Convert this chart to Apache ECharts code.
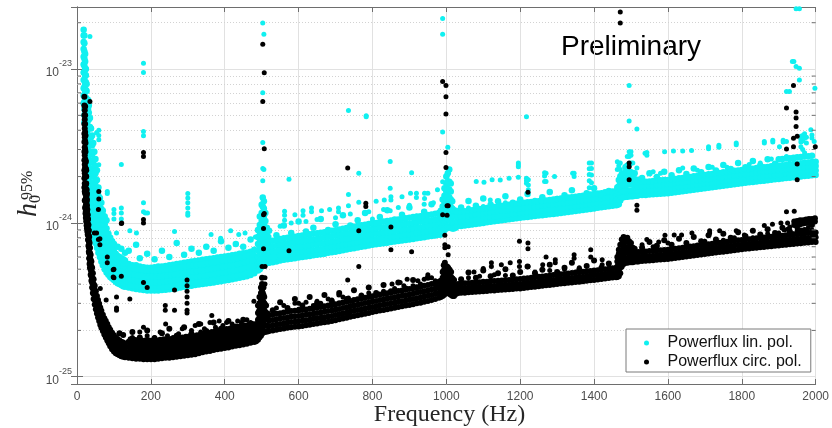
<!DOCTYPE html>
<html><head><meta charset="utf-8">
<script src="https://cdn.jsdelivr.net/npm/echarts@6/dist/echarts.min.js"></script>
<style>html,body{margin:0;padding:0;background:#fff}#c{width:832px;height:428px}</style>
</head><body><div id="c"></div>
<script>
// All strain values are in units of 1e-25 ; each row = [frequency (Hz), value, value, ...]
const UNIT_EXP = -25;
const xTicks = [0,200,400,600,800,1000,1200,1400,1600,1800,2000];
const yMinor = [2,3,4,5,6,7,8,9,20,30,40,50,60,70,80,90,200];
const seriesNames = ['Powerflux lin. pol.','Powerflux circ. pol.'];

const linCurve = [
[18,60,67,75,85,95,107,120,135,150,165,180],[20,45,50,55,61,68,76,85,95,105,117,130,147,165],
[22,35,38,42,47,52,58,64,72,80,90,100,112,125],[24,28,31,34,38,42,47,52,58,65,73,82,91,100],
[26,22,24.5,27,30,33,37,41,46,51,57,64,72,80],[28,17,19,21,23.5,26,29,32,36,40,45,50,56,62],
[30,14,15.5,17,19,21,23.5,26,29.5,33,37,42,48,55,63],[32,12.5,13.7,15,16.7,18.5,20.5,23,26,29,33,37,42,47,52,58],
[35,10.5,11.5,12.5,13.7,15,16.5,18,20,22,25,28,32,36,42,48],[38,9.8,10.6,11.5,12.5,13.5,15,16.5,18,20,22.5,25,28.5,32,36,41],
[41,9.1,9.8,10.6,11.5,12.5,13.7,15,16.5,18,20,22,25,28,32,37],[44,8.5,9.1,9.8,10.6,11.5,12.5,13.5,14.7,16,18,20,22.5,25,29,33],
[47,7.9,8.5,9.1,9.8,10.6,11.5,12.4,13.4,14.5,16,18,20,23,26,29],[50,7.4,7.9,8.5,9.1,9.8,10.6,11.4,12.4,13.5,15,16.5,18.5,21,23.5,26],
[54,6.9,7.4,7.9,8.5,9.1,9.8,10.5,11.3,12.2,13.5,15,17,19,22],[58,6.4,6.85,7.3,7.85,8.4,9.0,9.7,10.5,11.3,12.3,13.5,15,17],
[62,6.0,6.4,6.8,7.3,7.8,8.4,9,9.7,10.4,11.3,12.3,13.3,14.5],[66,5.6,6.0,6.4,6.85,7.3,7.85,8.4,9.0,9.7,10.5,11.3,12.3,13.5],
[70,5.3,5.65,6.0,6.45,6.9,7.4,7.9,8.5,9.1,9.8,10.5,11.2,12],[75,5.0,5.35,5.7,6.1,6.5,6.95,7.4,7.95,8.5,9.1,9.8,10.4,11],
[80,4.75,5.05,5.4,5.75,6.1,6.55,7.0,7.5,8.0,8.6,9.2,10.4],[85,4.6,4.9,5.2,5.5,5.8,6.2,6.6,7.0,7.5,8.0,8.5],
[90,4.45,4.72,5.0,5.3,5.6,5.95,6.3,6.7,7.1,7.5,8.0],[95,4.35,4.6,4.85,5.1,5.4,5.75,6.1,6.45,6.8,7.2,7.6],
[100,4.25,4.47,4.7,4.95,5.2,5.5,5.8,6.15,6.5,6.9,7.3],[105,4.15,4.37,4.6,4.85,5.1,5.35,5.6,5.95,6.3],
[110,4.05,4.27,4.5,4.75,5.0,5.25,5.5,5.8,6.1,7.0],[115,4.0,4.2,4.4,4.65,4.9,5.15,5.4,5.7,6.0],
[120,3.95,4.15,4.35,4.57,4.8,5.05,5.3,5.6,5.9,6.8],[125,3.88,4.08,4.3,4.52,4.75,5.0,5.25,5.5,5.8],
[130,3.84,4.04,4.25,4.47,4.7,4.95,5.2,5.45,5.7,6.4]
];
const linBand1 = [
[140,3.8,4.1,4.5,4.9,5.4,6.6],[150,3.76,4.1,4.45,4.85,5.3],[160,3.72,4.05,4.4,4.8,5.3,7.2],[170,3.69,4.0,4.35,4.75,5.2,5.9],
[180,3.66,3.98,4.3,4.7,5.15],[190,3.64,3.95,4.3,4.7,5.1,6.3],[200,3.63,3.94,4.28,4.68,5.1],[210,3.63,3.95,4.3,4.7,5.15,5.8],
[220,3.64,3.96,4.3,4.72,5.2],[230,3.66,3.98,4.33,4.74,5.2,6.6],[240,3.68,4.0,4.36,4.78,5.25],[250,3.7,4.03,4.4,4.82,5.3,6.0],
[260,3.73,4.06,4.43,4.85,5.35],[270,3.76,4.1,4.47,4.9,5.4,7.4],[280,3.8,4.14,4.5,4.95,5.45],[290,3.84,4.18,4.55,5.0,5.5,6.2],
[300,3.88,4.22,4.6,5.05,5.55],[310,3.91,4.26,4.65,5.1,5.6,6.8],[320,3.94,4.3,4.68,5.13,5.65],[330,3.97,4.33,4.72,5.17,5.7,6.4],
[340,4.0,4.36,4.76,5.2,5.75],[350,4.03,4.4,4.8,5.25,5.8,7.0],[360,4.06,4.43,4.84,5.3,5.85],[370,4.1,4.47,4.88,5.35,5.9,6.6],
[380,4.14,4.5,4.92,5.4,5.95],[390,4.18,4.55,4.97,5.45,6.0,7.6],[400,4.22,4.6,5.0,5.5,6.05],[410,4.25,4.63,5.05,5.55,6.1,6.9],
[420,4.3,4.68,5.1,5.6,6.15],[430,4.35,4.74,5.17,5.65,6.2,7.3],[440,4.4,4.8,5.23,5.72,6.3],[450,4.45,4.85,5.3,5.8,6.35,7.0],
[460,4.5,4.9,5.35,5.85,6.4],[470,4.58,5.0,5.45,5.95,6.5,7.8],[480,4.7,5.1,5.6,6.1,6.7],
[145,3.93,4.27,4.65,5.1],[155,3.89,4.23,4.6,5.05],[165,3.85,4.18,4.55,5.0],[175,3.82,4.15,4.51,4.95],[185,3.8,4.12,4.49,4.93],
[195,3.78,4.1,4.46,4.9],[205,3.78,4.1,4.46,4.9],[215,3.78,4.1,4.47,4.9],[225,3.8,4.12,4.49,4.93],[235,3.82,4.15,4.51,4.95],
[245,3.84,4.17,4.54,4.98],[255,3.86,4.19,4.56,5.0],[265,3.89,4.23,4.6,5.05],[275,3.93,4.27,4.65,5.1],[285,3.97,4.32,4.7,5.16],
[295,4.01,4.36,4.75,5.21],[305,4.06,4.41,4.8,5.27],[315,4.08,4.43,4.82,5.29],[325,4.11,4.46,4.86,5.33],[335,4.14,4.5,4.9,5.37],
[345,4.17,4.53,4.93,5.41],[355,4.21,4.58,4.98,5.47],[365,4.24,4.61,5.02,5.51],[375,4.28,4.66,5.07,5.56],[385,4.33,4.7,5.12,5.62],
[395,4.37,4.75,5.17,5.67],[405,4.4,4.78,5.2,5.71],[415,4.45,4.84,5.26,5.78],[425,4.49,4.88,5.31,5.83],[435,4.54,4.94,5.38,5.9],
[445,4.6,5.0,5.44,5.97],[455,4.65,5.05,5.5,6.03],[465,4.72,5.13,5.58,6.13],[475,4.83,5.24,5.71,6.26]
];
const linSpike500 = [
[490,4.9,5.4,6.0,6.6,7.3,8.1,9.0],[495,5.0,5.6,6.3,7.0,7.8,8.7,9.7,11.0],[500,5.2,5.8,6.5,7.3,8.2,9.2,10.3,11.6,13.1],
[503,5.5,6.2,7.0,7.9,8.9,10.0,11.3,12.8,14.6],[506,5.3,6.0,6.8,7.7,8.7,9.8,11.0,12.4,13.8],
[510,5.4,5.9,6.6,7.4,8.2,9.2,10.3,11.6],[514,5.5,6.0,6.7,7.5,8.3,9.3],[518,5.5,6.0,6.6,7.3,8.1]
];
const linBand2 = [
[520,5.5,5.94,6.44,6.99,7.59,8.9],[530,5.55,6.0,6.5,7.05,7.66],[540,5.6,6.05,6.55,7.1,7.75,8.3],[550,5.7,6.15,6.67,7.24,7.87],
[560,5.75,6.21,6.73,7.3,7.94,9.6],[570,5.8,6.26,6.79,7.37,8.0],[580,5.85,6.32,6.84,7.43,8.07,8.6],[590,5.9,6.37,6.9,7.49,8.14],
[600,5.95,6.43,6.96,7.56,8.21,10.2],[610,6.0,6.48,7.02,7.62,8.28],[620,6.05,6.53,7.08,7.68,8.35,8.8],[630,6.1,6.59,7.14,7.75,8.42],
[640,6.15,6.64,7.2,7.81,8.49,9.3],[650,6.2,6.7,7.25,7.87,8.56],[660,6.25,6.75,7.31,7.94,8.63,10.6],[670,6.3,6.8,7.37,8.0,8.69],
[680,6.4,6.91,7.49,8.13,8.83,9.0],[690,6.45,6.97,7.55,8.19,8.9],[700,6.5,7.02,7.61,8.26,8.97,9.8],[710,6.57,7.1,7.69,8.34,9.07],
[720,6.64,7.17,7.77,8.43,9.16,11.2],[730,6.71,7.25,7.85,8.52,9.26],[740,6.78,7.32,7.93,8.61,9.36,9.6],[750,6.85,7.4,8.01,8.7,9.45],
[760,6.92,7.47,8.1,8.79,9.55,10.4],[770,6.99,7.55,8.18,8.88,9.65],[780,7.06,7.62,8.26,8.97,9.74,11.6],[790,7.13,7.7,8.34,9.06,9.84],
[800,7.2,7.78,8.42,9.14,9.94,10.0],[810,7.26,7.84,8.49,9.22,10.0],[820,7.32,7.91,8.56,9.3,10.1,10.9],[830,7.38,7.97,8.63,9.37,10.2],
[840,7.44,8.04,8.7,9.45,10.3,12.1],[850,7.5,8.1,8.78,9.53,10.35],[860,7.56,8.16,8.85,9.6,10.4,10.5],[870,7.62,8.23,8.92,9.68,10.5],
[880,7.68,8.29,8.99,9.75,10.6,11.3],[890,7.74,8.36,9.06,9.83,10.7],[900,7.8,8.42,9.13,9.91,10.8,12.6],[910,7.87,8.5,9.21,10.0,10.9],
[920,7.94,8.58,9.29,10.1,11.0,10.9],[930,8.01,8.65,9.37,10.2,11.05],[940,8.08,8.73,9.45,10.3,11.15,11.8],[950,8.15,8.8,9.54,10.35,11.25],
[960,8.22,8.88,9.62,10.4,11.35,13.2],[970,8.29,8.95,9.7,10.5,11.45],[980,8.36,9.03,9.78,10.6,11.5,11.6]
];
const linSpike1000 = [
[985,8.4,9.2,10,11,12],[990,8.6,9.5,10.5,11.6,12.8,14.2],[995,9.0,10,11,12.2,13.5,15,16.8],
[1000,9.2,10.3,11.5,12.8,14.3,16,18,20],[1004,9.5,10.6,11.8,13.2,14.8,16.6,18.6,21],[1008,9.4,10.5,11.7,13.1,14.7,16.5,18.5,22.2],
[1012,9.3,10.3,11.4,12.7,14.2,16,18],[1016,9.2,10.1,11.2,12.4,13.8],[1020,9.2,10,11,12.1],[1025,9.3,10.1,11,12]
];
const linBand3 = [
[1030,9.5,10.2,10.9,11.8],[1040,9.55,10.2,11.0,11.8,12.6],[1050,9.6,10.3,11.0,11.9],[1060,9.68,10.4,11.1,12.0,13.9],
[1070,9.76,10.4,11.2,12.1],[1080,9.84,10.5,11.3,12.2,12.9],[1090,9.92,10.6,11.4,12.3],[1100,10.0,10.7,11.5,12.4,14.4],
[1110,10.08,10.8,11.6,12.5],[1120,10.16,10.9,11.7,12.6,13.1],[1130,10.24,11.0,11.8,12.7],[1140,10.32,11.0,11.9,12.8,13.8],
[1150,10.4,11.1,12.0,12.9],[1160,10.48,11.2,12.05,13.0,14.9],[1170,10.56,11.3,12.1,13.1],[1180,10.64,11.4,12.2,13.2,13.5],
[1190,10.72,11.5,12.3,13.3],[1200,10.8,11.6,12.4,13.4,14.2],[1210,10.87,11.6,12.5,13.5],[1220,10.94,11.7,12.6,13.6,15.4],
[1230,11.01,11.8,12.7,13.65],[1240,11.08,11.9,12.7,13.7,13.9],[1250,11.15,11.9,12.8,13.8],[1260,11.22,12.0,12.9,13.9,14.7],
[1270,11.29,12.1,13.0,14.0],[1280,11.36,12.2,13.1,14.1,15.9],[1290,11.43,12.2,13.1,14.2],[1300,11.5,12.3,13.2,14.3,14.3],
[1310,11.59,12.4,13.3,14.4],[1320,11.68,12.5,13.4,14.5,15.1],[1330,11.77,12.6,13.5,14.6],[1340,11.86,12.7,13.6,14.7,16.3],
[1350,11.95,12.8,13.7,14.8],[1360,12.04,12.9,13.8,14.9,14.8],[1370,12.13,13.0,13.9,15.0],[1380,12.22,13.1,14.05,15.15,15.6],
[1390,12.32,13.2,14.2,15.3],[1400,12.42,13.3,14.3,15.4,16.8],[1410,12.52,13.4,14.4,15.5],[1420,12.62,13.5,14.5,15.6,15.2],
[1430,12.72,13.6,14.6,15.8],[1440,12.82,13.7,14.7,15.9,16.1],[1450,12.92,13.8,14.9,16.0],[1460,13.02,13.9,15.0,16.1]
];
const linStep1470 = [
[1463,13.1,14.2,15.5,17],[1467,13.2,14.4,15.8,17.3,19],[1471,14.0,15.2,16.6,18.2,20],
[1475,14.6,15.9,17.3,18.9,20.7],[1480,14.7,16.0,17.5,19.1,21],[1485,14.8,16.1,17.6,19.2,21.0,23],
[1490,14.8,16.1,17.7,19.3,21.2,23.5],[1495,14.9,16.2,17.8,19.5,21.5,24],[1500,14.9,16.2,17.8,19.4,21.3],
[1505,14.9,16.2,17.7,19.3,21.0],[1510,15.0,16.3,17.7,19.2,21],[1516,15.0,16.2,17.6,19.1]
];
const linBand4 = [
[1520,15.1,16.2,17.2,18.4],[1530,15.15,16.2,17.3,18.5,19.6],[1540,15.2,16.3,17.3,18.5],[1550,15.27,16.3,17.4,18.6,21.0],
[1560,15.34,16.4,17.5,18.7],[1570,15.41,16.5,17.6,18.8,19.9],[1580,15.48,16.6,17.6,18.9],[1590,15.55,16.6,17.7,19.0,21.5],
[1600,15.6,16.7,17.8,19.0],[1610,15.72,16.8,17.9,19.2,20.4],[1620,15.84,16.9,18.1,19.3],[1630,15.96,17.1,18.2,19.5,22.0],
[1640,16.08,17.2,18.3,19.6],[1650,16.2,17.3,18.5,19.8,20.8],[1660,16.32,17.5,18.6,19.9],[1670,16.44,17.6,18.7,20.1,22.6],
[1680,16.56,17.7,18.9,20.2],[1690,16.68,17.8,19.0,20.3,21.3],[1700,16.8,18.0,19.2,20.5],[1710,16.93,18.1,19.3,20.7,23.1],
[1720,17.06,18.3,19.4,20.8],[1730,17.19,18.4,19.6,21.0,21.9],[1740,17.32,18.5,19.7,21.1],[1750,17.45,18.7,19.9,21.3,23.8],
[1760,17.58,18.8,20.0,21.4],[1770,17.71,18.9,20.2,21.6,22.4],[1780,17.84,19.1,20.3,21.8],[1790,17.97,19.2,20.5,21.9,24.5],
[1800,18.1,19.4,20.6,22.1],[1810,18.22,19.5,20.8,22.2,23.0],[1820,18.34,19.6,20.9,22.4],[1830,18.46,19.8,21.0,22.5,25.2],
[1840,18.58,19.9,21.2,22.7],[1850,18.7,20.0,21.3,22.8,23.6],[1860,18.82,20.1,21.5,23.0],[1870,18.94,20.3,21.6,23.1,25.9],
[1880,19.06,20.4,21.7,23.3],[1890,19.18,20.5,21.9,23.4,24.2],[1900,19.3,20.7,22.0,23.5,25.9],[1910,19.42,20.8,22.1,23.7,26.0],
[1920,19.54,20.9,22.3,23.8,26.2],[1930,19.66,21.0,22.4,24.0,26.3],[1940,19.78,21.2,22.5,24.1,26.5],[1950,19.9,21.3,22.7,24.3,26.7],
[1960,20.02,21.4,22.8,24.4,26.8],[1970,20.14,21.5,23.0,24.6,27.0],[1980,20.26,21.7,23.1,24.7,27.1],[1990,20.38,21.8,23.2,24.9,27.3],
[2000,20.5,21.9,23.4,25.0]
];
const linScatter = [
[53,38.5],[59,40,37,34.7,23.9,16],[35,163],[82,16,15.5],[100,12.2,11.5,10.6],[107,8.6],[120,24,12.5,11.6,10.6],[143,8.9],
[161,8.6],[180,109,95,39.3,36.8,13.5,11.8],[185,11.6],[191,11.6],[264,8.8],[300,15.5,14.5,13.5,12.5,11.6,11.2],[363,8.4],
[389,7.95],[416,8.9],[438,8.4],[455,8.6],[483,8.1],
[503,18.8,22.6,33.3,70,199],[506,22.2,168],
[562,11.9,11.2,10.4],[574,19.2],[590,11.3],[612,12,11.2],[635,12.5,11.8],[662,12],[684,12.2],[708,12.5,11.8],
[735,53.8,15.3,12.9],[763,21,13.6],[783,49.7,49],[800,10.6],[810,13.8],[832,14.1],[848,25.1,16.8,12],[850,14.8,14.1],
[880,14.8],[903,15.6],[906,21.2],[919,15.6,14.6],[941,15.6,14.4],[950,15.6],[976,16.4],[550,9.5],[580,10],[620,10.2],
[650,10.5],[700,10.8],[740,11.4],[790,11.8],[830,12.2],[870,12.6],[900,13],[940,13.2],[965,13.5],
[990,18.5,39,168,213],[1004,31],
[1081,18.6],[1102,18.4],[1124,19.1],[1146,19.0],[1170,19.5],[1195,24.5,23.8,23.2,19.8],[1217,49,19.5,18.8,18.1],
[1222,19.1,17.6,16.4],[1266,21.2,20.2,18.6],[1270,21,18.6],[1293,20],[1342,21],[1346,21,20],[1387,24.5,22.5,20.6,18.8,16.9],
[1393,24.5,22.6,20.5,18.2],[1418,15.2],[1119,14.1],[1160,13.5],[1257,14.3,13.8],[1100,12.8],[1060,12.5],
[1463,22.2,25],[1467,23.5],[1471,22.2,24.5],[1490,27],[1495,27,29,46,78],[1500,24.5,27.5,29],[1505,24.5],[1516,22.7,40.7],
[1538,28.4],[1543,28.7,27.5],[1591,29],[1615,29.3],[1640,29.3,22.7],[1664,29.5],[1710,31.3,30.3],[1738,32,31],
[1785,33,32.2],[1807,22.2],[1861,33.8,33],[1884,34.5,33.5],[1902,31.3],[1912,34.5,33.5],[1921,71.5,33.8,27],[1929,71.5,25.7],
[1937,112],[1941,112,26],[1947,246,104],[1956,246,101,85],[1960,36.5,35,33.5,31.3],[1965,37,34,30],[1970,38,35.5,28.6],
[1975,36,33],[1987,40.3],[1990,37.3,35.6],[1996,33.8],[1998,75],[1880,26],[1850,24.5],[1820,24],[1760,23],[1720,23],
[1680,22],[1580,21],[1560,21.5]
];

const circCurve = [
[20,17,19.5,22,25.5,29,33.5,38,44,50,58,66],[21,14,16,18,21,24,27.5,31,36,41,47,54],[22,12.5,14,15.5,17.5,20,23,26,30,34,39,44,50,57],
[23,11.5,12.7,14,15.7,17.5,20,22.5,25.5,29,33,37],[24,10.8,11.9,13,14.5,16,18,20,22.5,25],[25,10.2,11.2,12.2,13.5,14.8,16.3,18,20,22],
[26,9.6,10.5,11.5,12.6,13.8,15.1,16.5],[27,9.2,10,10.9,11.9,13,14.2,15.5],[28,8.8,9.5,10.3,11.2,12.2],[29,8.4,9.0,9.7,10.5,11.3],
[30,7.8,8.4,9.1,9.8,10.6],[31,7.1,7.7,8.3,9.0,9.7],[32,6.5,7.0,7.6,8.2,8.9],[33,5.9,6.4,6.9,7.5,8.1],[34,5.4,5.85,6.3,6.85,7.4],
[35,5.1,5.5,5.9,6.4,6.9],[37,4.6,4.95,5.3,5.75,6.2],[39,4.2,4.5,4.8,5.2,5.6],[41,3.8,4.1,4.4,4.75,5.1],[43,3.5,3.75,4.05,4.35,4.7],
[45,3.2,3.45,3.7,4.0,4.3],[48,2.95,3.17,3.4,3.65,3.9],[51,2.75,2.95,3.15,3.37,3.6],[54,2.58,2.76,2.95,3.15,3.35],
[57,2.43,2.6,2.78,2.96,3.15],[60,2.3,2.46,2.62,2.8,2.98],[63,2.18,2.33,2.48,2.65,2.82],[66,2.08,2.22,2.36,2.52,2.68],
[70,1.98,2.1,2.24,2.38,2.53],[74,1.88,2.0,2.13,2.26,2.4],[78,1.8,1.91,2.03,2.16,2.3],[82,1.72,1.83,1.95,2.07,2.2],
[86,1.65,1.76,1.87,1.98,2.1],[90,1.58,1.68,1.79,1.9,2.02],[95,1.51,1.61,1.71,1.82,1.93],[100,1.46,1.55,1.65,1.75,1.86],
[105,1.42,1.51,1.6,1.7,1.8],[110,1.4,1.48,1.57,1.66,1.76],[115,1.38,1.46,1.54,1.63,1.72,1.92],[120,1.36,1.44,1.52,1.6,1.69],
[125,1.35,1.42,1.5,1.58,1.67,1.87],[130,1.34,1.41,1.48,1.56,1.64]
];
const circBand1 = [
[140,1.33,1.44,1.56,1.69],[150,1.32,1.43,1.54,1.68,1.95],[160,1.31,1.41,1.53,1.66],[170,1.31,1.41,1.53,1.66,1.8],
[180,1.3,1.4,1.52,1.65],[190,1.3,1.4,1.52,1.65,2.0],[200,1.3,1.4,1.52,1.65],[210,1.3,1.4,1.52,1.65,1.78],
[220,1.31,1.41,1.53,1.66],[230,1.32,1.43,1.54,1.68,1.92],[240,1.33,1.44,1.56,1.69],[250,1.33,1.44,1.56,1.69,2.05],
[260,1.34,1.45,1.57,1.7],[270,1.35,1.46,1.58,1.71,1.85],[280,1.36,1.47,1.59,1.73],[290,1.37,1.48,1.6,1.74,2.1],
[300,1.38,1.49,1.61,1.75],[310,1.39,1.5,1.63,1.77,1.9],[320,1.4,1.51,1.64,1.78],[330,1.42,1.53,1.66,1.8,2.2],
[340,1.44,1.56,1.68,1.83],[350,1.46,1.58,1.71,1.85,1.98],[360,1.47,1.59,1.72,1.87],[370,1.49,1.61,1.74,1.89,2.25],
[380,1.51,1.63,1.77,1.92],[390,1.52,1.64,1.78,1.93,2.05],[400,1.54,1.66,1.8,1.96],[410,1.55,1.67,1.81,1.97,2.3],
[420,1.57,1.7,1.84,1.99],[430,1.59,1.72,1.86,2.02,2.12],[440,1.6,1.73,1.87,2.03],[450,1.62,1.75,1.9,2.06,2.35],
[460,1.64,1.77,1.92,2.08],[470,1.66,1.79,1.94,2.11,2.2],[480,1.68,1.81,1.97,2.13],
[145,1.38,1.48,1.62,1.75],[155,1.37,1.47,1.6,1.74],[165,1.36,1.47,1.6,1.73],[175,1.36,1.46,1.59,1.72],[185,1.35,1.46,1.59,1.72],
[195,1.35,1.46,1.59,1.72],[205,1.35,1.46,1.59,1.72],[215,1.36,1.46,1.59,1.72],[225,1.37,1.47,1.6,1.74],[235,1.38,1.48,1.62,1.75],
[245,1.38,1.49,1.62,1.76],[255,1.39,1.5,1.63,1.76],[265,1.4,1.51,1.64,1.78],[275,1.41,1.52,1.65,1.79],[285,1.42,1.53,1.67,1.8],
[295,1.43,1.54,1.68,1.82],[305,1.44,1.55,1.69,1.83],[315,1.45,1.56,1.7,1.84],[325,1.47,1.58,1.72,1.86],[335,1.49,1.6,1.74,1.89],
[345,1.51,1.62,1.77,1.91],[355,1.52,1.64,1.79,1.93],[365,1.54,1.66,1.81,1.95],[375,1.56,1.68,1.83,1.98],[385,1.58,1.7,1.85,2.0],
[395,1.59,1.71,1.87,2.02],[405,1.61,1.73,1.88,2.04],[415,1.62,1.75,1.9,2.06],[425,1.64,1.77,1.93,2.09],[435,1.66,1.79,1.95,2.11],
[445,1.67,1.8,1.96,2.13],[455,1.7,1.83,1.99,2.15],[465,1.72,1.85,2.01,2.18],[475,1.74,1.87,2.04,2.2]
];
const circSpike500 = [
[485,1.7,1.85,2.0,2.2],[490,1.74,1.9,2.1,2.35,2.6,2.9],[494,1.8,2.0,2.2,2.45,2.7,3.0,3.3],
[498,1.85,2.05,2.3,2.55,2.85,3.15,3.5,3.8],[501,1.9,2.1,2.35,2.6,2.9,3.2,3.6,4.0,4.4],
[503,2.0,2.25,2.5,2.8,3.1,3.5],[505,1.95,2.2,2.45,2.75,3.05,3.4,3.8],
[507,1.95,2.15,2.4,2.7,3.0,3.3],[509,1.96,2.15,2.4,2.65,2.95],
[512,1.97,2.15,2.38,2.6,2.9],[516,1.97,2.14,2.35,2.58]
];
const circBand2 = [
[520,1.98,2.14,2.32,2.51],[530,2.0,2.16,2.34,2.54,2.7],[540,2.02,2.18,2.36,2.57],[550,2.04,2.2,2.39,2.59,3.05],
[560,2.06,2.22,2.41,2.62],[570,2.08,2.25,2.43,2.64,2.8],[580,2.1,2.27,2.46,2.67],[590,2.11,2.28,2.47,2.68,3.2],
[600,2.12,2.29,2.48,2.69],[610,2.14,2.31,2.5,2.72,2.9],[620,2.16,2.33,2.53,2.74],[630,2.18,2.35,2.55,2.77,3.3],
[640,2.2,2.38,2.57,2.79],[650,2.22,2.4,2.6,2.82,3.0],[660,2.24,2.42,2.62,2.84],[670,2.26,2.44,2.64,2.87,3.4],
[680,2.28,2.46,2.67,2.9],[690,2.3,2.48,2.69,2.92,3.1],[700,2.33,2.52,2.73,2.96],[710,2.36,2.55,2.76,3.0,3.5],
[720,2.39,2.58,2.8,3.04],[730,2.42,2.61,2.83,3.07,3.2],[740,2.45,2.65,2.87,3.11],[750,2.48,2.68,2.9,3.15,3.65],
[760,2.51,2.71,2.94,3.19],[770,2.54,2.74,2.97,3.23,3.35],[780,2.57,2.78,3.01,3.26],[790,2.6,2.81,3.04,3.3,3.8],
[800,2.63,2.84,3.08,3.34],[810,2.66,2.87,3.11,3.38,3.5],[820,2.69,2.91,3.15,3.42],[830,2.72,2.94,3.18,3.45,3.95],
[840,2.75,2.97,3.22,3.49],[850,2.78,3.0,3.25,3.53,3.6],[860,2.81,3.03,3.29,3.57],[870,2.84,3.07,3.32,3.61,4.1],
[880,2.87,3.1,3.36,3.64],[890,2.9,3.13,3.39,3.68,3.75],[900,2.93,3.16,3.43,3.72],[910,2.96,3.2,3.46,3.76,4.25],
[920,3.0,3.24,3.51,3.81],[930,3.03,3.27,3.55,3.85,3.9],[940,3.07,3.32,3.59,3.9],[950,3.11,3.36,3.64,3.95,4.4],
[960,3.15,3.4,3.69,4.0],[970,3.2,3.46,3.74,4.06,4.05],[980,3.26,3.52,3.81,4.14]
];
const circSpike1000 = [
[985,3.3,3.6,3.9,4.2],[990,3.35,3.7,4.0,4.4,4.8],[993,3.4,3.75,4.1,4.5,4.9,5.3],
[996,3.45,3.8,4.2,4.6,5.0,5.5],[999,3.5,3.85,4.25,4.7,5.2],
[1002,3.55,3.9,4.3,4.75,5.2],[1005,3.5,3.85,4.25,4.7,5.1],[1009,3.45,3.8,4.15,4.55,4.95],
[1013,3.4,3.7,4.05,4.45,4.8],[1017,3.35,3.65,4.0,4.35],[1021,3.35,3.6,3.9,4.25],[1026,3.45,3.7,3.95],[1032,3.5,3.75,4.0]
];
const circBand3 = [
[1040,3.51,3.76,4.04,4.3],[1050,3.52,3.77,4.05],[1060,3.54,3.79,4.07,4.75],[1070,3.55,3.8,4.08],[1080,3.57,3.82,4.1,4.4],
[1090,3.58,3.83,4.12],[1100,3.6,3.85,4.14,4.9],[1110,3.61,3.86,4.15],[1120,3.63,3.88,4.17,4.5],[1130,3.64,3.89,4.19],
[1140,3.66,3.92,4.21,4.7],[1150,3.67,3.93,4.22],[1160,3.69,3.95,4.24,5.0],[1170,3.7,3.96,4.26],[1180,3.72,3.98,4.28,4.55],
[1190,3.74,4.0,4.3],[1200,3.75,4.01,4.31,4.8],[1210,3.78,4.04,4.35],[1220,3.8,4.07,4.37,5.2],[1230,3.83,4.1,4.4],
[1240,3.85,4.12,4.43,4.7],[1250,3.88,4.15,4.46],[1260,3.9,4.17,4.49,4.95],[1270,3.93,4.2,4.52],[1280,3.95,4.23,4.54,5.35],
[1290,3.98,4.26,4.58],[1300,4.0,4.28,4.6,4.8],[1310,4.03,4.31,4.63],[1320,4.05,4.33,4.66,5.1],[1330,4.08,4.37,4.69],
[1340,4.1,4.39,4.72,5.5],[1350,4.13,4.42,4.75],[1360,4.15,4.44,4.77,4.95],[1370,4.18,4.47,4.81],[1380,4.2,4.49,4.83,5.25],
[1390,4.23,4.53,4.86],[1400,4.26,4.56,4.9,5.7],[1410,4.29,4.59,4.93],[1420,4.32,4.62,4.97,5.1],[1430,4.35,4.65,5.0],
[1440,4.38,4.69,5.04,5.45],[1450,4.41,4.72,5.07],[1460,4.44,4.75,5.11]
];
const circStep1470 = [
[1463,4.45,4.8,5.2,5.6,6.0],[1467,4.5,4.9,5.3,5.8,6.3,6.7],[1471,4.7,5.1,5.6,6.1,6.6,7.2],
[1475,5.2,5.6,6.1,6.6,7.2,7.8],[1480,5.4,5.8,6.3,6.8,7.4,8.1],[1485,5.5,5.9,6.4,6.9,7.5],[1490,5.5,5.9,6.4,6.9,7.5,8.0],
[1495,5.55,6.0,6.5,7.0,7.6],[1500,5.55,5.95,6.4,6.9,7.4],[1505,5.55,5.95,6.4,6.9],[1510,5.6,5.95,6.35,6.8],
[1516,5.6,5.95,6.3]
];
const circBand4 = [
[1520,5.62,6.01,6.46],[1530,5.65,6.05,6.5,6.9],[1540,5.67,6.07,6.52],[1550,5.7,6.1,6.56,7.5],[1560,5.72,6.12,6.58],
[1570,5.75,6.15,6.61,7.1],[1580,5.77,6.17,6.64],[1590,5.8,6.21,6.67,7.7],[1600,5.82,6.23,6.69],[1610,5.87,6.28,6.75,7.2],
[1620,5.91,6.32,6.8],[1630,5.96,6.38,6.85,7.9],[1640,6.0,6.42,6.9],[1650,6.05,6.47,6.96,7.4],[1660,6.1,6.53,7.02],
[1670,6.14,6.57,7.06,8.1],[1680,6.19,6.62,7.12],[1690,6.23,6.67,7.16,7.6],[1700,6.28,6.72,7.22],[1710,6.32,6.76,7.27,8.3],
[1720,6.37,6.82,7.33],[1730,6.41,6.86,7.37,7.8],[1740,6.46,6.91,7.43],[1750,6.5,6.96,7.48,8.5],[1760,6.55,7.01,7.53],
[1770,6.6,7.06,7.59,8.0],[1780,6.65,7.12,7.65],[1790,6.7,7.17,7.71,8.7],[1800,6.74,7.21,7.75],[1810,6.78,7.25,7.8,8.2],
[1820,6.82,7.3,7.84],[1830,6.86,7.34,7.89,8.9],[1840,6.9,7.38,7.94],[1850,6.94,7.43,7.98,8.4],[1860,6.98,7.47,8.03],
[1870,7.02,7.51,8.07,9.1],[1880,7.06,7.55,8.12],[1890,7.1,7.6,8.17,8.6],[1900,7.14,7.64,8.21],[1910,7.18,7.68,8.26,9.3],
[1920,7.22,7.73,8.3],[1930,7.26,7.77,8.35,8.8],[1940,7.3,7.81,8.4],[1950,7.34,7.85,8.44,9.5],[1960,7.38,7.9,8.49],
[1970,7.42,7.94,8.53,9.0],[1980,7.46,7.98,8.58],[1990,7.5,8.03,8.63,9.7],[2000,7.52,8.05,8.65],
[1942,9.7,10.2],[1950,9.8,10.3],[1958,9.8,10.4],[1966,9.9,10.4],[1974,10.0,10.5],[1982,10.0,10.6],[1990,10.1,10.6],[1998,10.2,10.7]
];
const circScatter = [
[35,61.6],[47,8.6],[53,8.6],[58,12.2,7.8],[59,16,14.3],[62,7.9,7.2],[63,3.75],[79,3.15],[82,6.0,5.5],[98,4.95,4.45],
[100,5.0,4.4],[107,3.3,2.8,2.7],[120,9.9,4.5],[121,10],[143,3.2],[180,28.7,27,10.5,10,4.1,2.1],[190,3.8],[239,2.9,2.7],
[240,2.2],[264,3.66,2.7],[298,4.25,3.9,3.6,3.3,3.0,2.7,2.6],[365,2.5],[479,3.1],[491,2.65],
[310,2.0],[320,2.15],[335,1.95,2.2],[345,2.05],[360,2.25,1.9],[375,2.1],[385,2.3,2.0],[395,2.15],[405,1.95,2.25],[420,2.2],
[435,2.05,2.3],[445,2.25],[460,2.1,2.35],[470,2.25],[150,1.8],[170,1.75,1.95],[190,1.85],[210,1.8],[225,1.95],[245,1.85],
[260,1.8],[275,1.9],[285,2.05],
[501,5.2],[503,145,61.6],[505,6.8,9.2,11.3],[507,94.6,30.3,11.5],[509,5.2,4.4,4.0],
[574,6.6],[709,3.4],[733,22.7,4.25],[763,8.9,5.2],[782,13.4,12.8],[850,9.4,6.7],[853,4.0],[875,4.1],[894,4.3],[906,6.5],
[910,3.9],[923,3.8,4.2],[950,4.6],[960,4.4],[940,4.3],[560,2.9],[590,3.0],[620,3.05],[650,3.1],[680,3.2],[700,2.95],
[720,3.3],[745,3.1],[770,3.4],[790,3.5],[810,3.45],[830,3.6],[860,3.75],[885,3.9],[930,4.0],[970,4.2],[540,2.8],
[600,2.75,3.0],[640,2.9],[660,3.0],[690,3.15],[735,3.25],
[990,11.3,83],[996,7.2,6.9,8.3],[999,28.7,22.9,51,66,78],[1002,12.9,11.2],[1005,12.9,7.0,6.2],
[1075,4.8],[1100,5.05],[1122,5.5,5.2],[1149,5.35],[1173,5.5],[1198,7.6,5.6,5.2],[1221,15.8,7.4,6.8,5.2],[1261,5.35],
[1270,6.0],[1295,5.75,5.5],[1346,6.2,5.9],[1391,6.7,6.0],[1422,5.75,5.35],[1060,4.4],[1090,4.5],[1130,4.6],[1160,4.55],
[1240,4.8],[1280,4.9],[1320,5.0],[1360,5.1],[1440,5.4],
[1471,235,199],[1495,24.5,23.2,19.1],[1516,13,12.1],
[1543,7.8],[1592,8.3],[1617,8.35],[1637,8.35],[1665,8.6],[1713,8.9,8.6],[1740,8.9],[1785,8.9],[1807,8.35],[1861,9.6],
[1883,9.8],[1906,10],[1924,10,9.1],[1942,11.9],[1900,8.6],[1915,9.0],[1930,8.8,9.4],[1940,8.5],[1950,8.8,9.2],
[1960,8.6,9.0],[1970,8.9],[1980,8.7,9.3],[1990,9.0],[1921,55.7,30.2,11.8],[1940,78,35.5,31.3],[1947,52.5,48,42.3],
[1950,36.5,24.1,19.1],[1999,31.3],[1530,7.2],[1560,7.0],[1575,7.5],[1600,7.4],[1650,7.3],[1700,7.6],[1750,7.7],
[1780,8.0],[1830,8.0],[1850,8.3],[1870,8.5]
];

function flatten(groups){
  const out = [];
  groups.forEach(rows => rows.forEach(r => { for (let i = 1; i < r.length; i++) out.push([r[0], r[i]]); }));
  return out;
}
const linBandData = flatten([linCurve, linBand1, linSpike500, linBand2, linSpike1000, linBand3, linStep1470, linBand4]);
const linScatterData = flatten([linScatter]);
const circBandData = flatten([circCurve, circBand1, circSpike500, circBand2, circSpike1000, circBand3, circStep1470, circBand4]);
const circScatterData = flatten([circScatter]);

const AX = '#6e6e6e';
const CYAN = '#10f0f0';
const yMin = 0.897, yMax = 253;
const chart = echarts.init(document.getElementById('c'), null, {renderer: 'canvas'});
const supFmt = v => {
  const e = Math.log10(v), r = Math.round(e);
  if (Math.abs(e - r) > 1e-6) return '';
  return '{b|10}{s|' + (r + UNIT_EXP) + '}';
};
const minorTicks = [];
yMinor.forEach(v => {
  minorTicks.push({coord: [0, v], symbolOffset: [2, 0]});
  minorTicks.push({coord: [2000, v], symbolOffset: [-2, 0]});
});
const scat = (name, color, size, data, extra) => Object.assign({
  name, type: 'scatter', xAxisIndex: 0, yAxisIndex: 0, symbol: 'circle', symbolSize: size,
  itemStyle: {color, opacity: 1}, data, silent: true, animation: false
}, extra || {});
chart.setOption({
  animation: false,
  backgroundColor: '#fff',
  grid: {left: 77, right: 10, top: 7, bottom: 44},
  xAxis: [
    {type: 'value', min: 0, max: 2000, interval: 200, position: 'bottom',
     axisLine: {show: true, lineStyle: {color: AX}}, axisTick: {inside: true, length: 5, lineStyle: {color: AX}},
     axisLabel: {color: '#4d4d4d', fontSize: 12, fontFamily: 'Liberation Sans', margin: 7, formatter: v => String(v)},
     splitLine: {show: true, lineStyle: {color: '#e1e1e1', width: 1}}},
    {type: 'value', min: 0, max: 2000, interval: 200, position: 'top',
     axisLine: {show: true, lineStyle: {color: AX}}, axisTick: {inside: true, length: 5, lineStyle: {color: AX}},
     axisLabel: {show: false}, splitLine: {show: false}}
  ],
  yAxis: [
    {type: 'log', logBase: 10, min: yMin, max: yMax, position: 'left',
     axisLine: {show: true, lineStyle: {color: AX}}, axisTick: {inside: true, length: 6, lineStyle: {color: AX}},
     axisLabel: {formatter: supFmt, margin: 5, color: '#4d4d4d', fontFamily: 'Liberation Sans',
       rich: {b: {fontSize: 12, color: '#4d4d4d', fontFamily: 'Liberation Sans', lineHeight: 20, verticalAlign: 'bottom'},
              s: {fontSize: 9, color: '#4d4d4d', fontFamily: 'Liberation Sans', lineHeight: 10, verticalAlign: 'top'}}},
     splitLine: {show: true, lineStyle: {color: '#e1e1e1', width: 1}}},
    {type: 'log', logBase: 10, min: yMin, max: yMax, position: 'right',
     axisLine: {show: true, lineStyle: {color: AX}}, axisTick: {inside: true, length: 6, lineStyle: {color: AX}},
     axisLabel: {show: false}, splitLine: {show: false}}
  ],
  legend: {
    orient: 'vertical', left: 626, top: 329, itemWidth: 32, itemHeight: 5, itemGap: 3,
    padding: [6, 9, 2, 18], backgroundColor: '#fff', borderColor: '#7a7a7a', borderWidth: 1, borderRadius: 0,
    icon: 'circle', textStyle: {fontFamily: 'Liberation Sans', fontSize: 16, color: '#111', lineHeight: 16},
    data: seriesNames
  },
  graphic: [
    {type: 'group', x: 43, y: 217, rotation: Math.PI / 2, silent: true, children: [
      {type: 'text', x: 0, y: 0, style: {text: 'h', fontFamily: 'Liberation Serif', fontStyle: 'italic', fontSize: 28, fill: '#262626', verticalAlign: 'bottom'}},
      {type: 'text', x: 17, y: -7, style: {text: '95%', fontFamily: 'Liberation Serif', fontSize: 16, fill: '#262626', verticalAlign: 'bottom'}},
      {type: 'text', x: 14, y: 1, style: {text: '0', fontFamily: 'Liberation Serif', fontSize: 16, fill: '#262626', verticalAlign: 'bottom'}}
    ]},
    {type: 'text', x: 449.5, y: 414.6, silent: true, style: {text: 'Frequency (Hz)', fontFamily: 'Liberation Serif', fontSize: 24, fill: '#262626', align: 'center', verticalAlign: 'middle'}},
    {type: 'text', x: 561, y: 47, silent: true, style: {text: 'Preliminary', fontFamily: 'Liberation Sans', fontSize: 28, fill: '#000', align: 'left', verticalAlign: 'middle'}}
  ],
  series: [
    scat(seriesNames[0], CYAN, 6.5, linBandData, {
      markLine: {silent: true, symbol: 'none', z: 1, label: {show: false}, animation: false,
        lineStyle: {color: '#d2d2d2', type: [1, 2], width: 1}, data: yMinor.map(v => ({yAxis: v}))},
      markPoint: {silent: true, symbol: 'rect', symbolSize: [4, 1], label: {show: false}, animation: false,
        itemStyle: {color: AX}, data: minorTicks}}),
    scat(seriesNames[0], CYAN, 5, linScatterData),
    scat(seriesNames[1], '#000', 6, circBandData),
    scat(seriesNames[1], '#000', 5, circScatterData)
  ]
});
</script>
</body></html>
